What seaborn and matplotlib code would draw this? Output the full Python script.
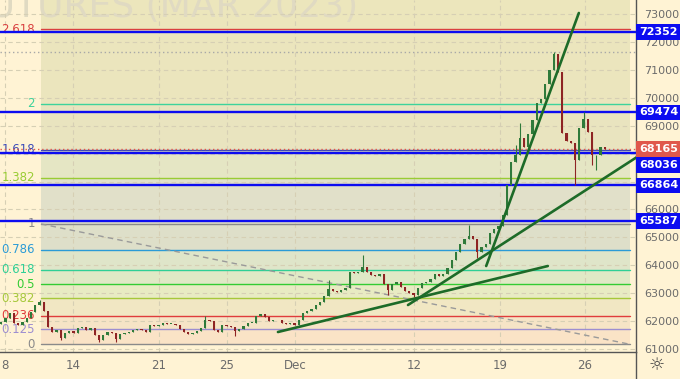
import numpy as np
import pandas as pd
import matplotlib.pyplot as plt
import seaborn as sns

# closes, 4 bars per trading day (7 Nov .. 27 Dec)
closes = [61968, 62111, 62290, 61932, 61860, 61968, 62111, 62326, 62576, 62684,
          62361, 61788, 61609, 61681, 61394, 61573, 61645, 61573, 61752, 61788,
          61681, 61752, 61502, 61323, 61502, 61609, 61573, 61358, 61537, 61573,
          61609, 61681, 61716, 61681, 61609, 61860, 61824, 61860, 61932, 61896,
          61896, 61860, 61716, 61609, 61537, 61573, 61645, 61752, 62039, 62003,
          61681, 61609, 61860, 61824, 61788, 61645, 61716, 61824, 61932, 61932,
          62183, 62254, 62147, 62003, 62039, 62039, 61932, 61896, 61932, 61860,
          62039, 62290, 62361, 62433, 62576, 62684, 62899, 63149, 63078, 63042,
          63114, 63185, 63759, 63723, 63759, 63938, 63759, 63651, 63615, 63687,
          63329, 63114, 63329, 63400, 63221, 63078, 63006, 62935, 63185, 63365,
          63400, 63508, 63687, 63615, 63687, 63902, 64188, 64475, 64762, 64941,
          65048, 64941, 64475, 64654, 64762, 65156, 65299, 65406, 65800, 66875,
          67699, 67949, 68558, 68236, 68702, 69203, 69812, 69955, 70493, 70994,
          71567, 70922, 68737, 68451, 68379, 67770, 68917, 69239, 68773, 67949,
          67949, 68236, 68165]
first_open = 61900
wick_hi = {9: 62756, 48: 62183, 77: 63472, 85: 64366, 110: 65442, 121: 68308,
           122: 69096, 130: 71650, 137: 69474}
wick_lo = {14: 61323, 23: 61250, 27: 61250, 55: 61466, 91: 62935, 97: 62863,
           112: 64260, 135: 66875, 139: 67591, 140: 67412}

# fibonacci extension
fib0, fib1 = 61170, 65480
fib_ratios = [0, 0.125, 0.236, 0.382, 0.5, 0.618, 0.786, 1, 1.382, 1.618, 2, 2.618]
fib_labels = ["0", "0.125", "0.236", "0.382", "0.5", "0.618", "0.786", "1",
              "1.382", "1.618", "2", "2.618"]
fib_colors = ["#8a8a8a", "#9d8ed0", "#e03c3c", "#a6c83a", "#33cc33", "#2fcf96",
              "#2b9bd6", "#8a8a8a", "#99cc33", "#3b4ab8", "#3dd39b", "#d94040"]
# zone fills: 0-0.125, ..., 2-2.618, above 2.618
zone_colors = ["#fae3c6", "#f6e4c6", "#f1e7c3", "#e8ebc3", "#e0e9c6", "#dfe5c9",
               "#dedfc9", "#e1e0c9", "#e5e6c4", "#e9e4bf", "#ebe5bd", "#ece6bc"]

levels = [72352, 69474, 68036, 66864, 65587]
last_price = 68165
session_high = 71650

trend_x = [[65.1, 128.6], [95.7, 149.6], [114.1, 135.9]]
trend_y = [[61609, 63973], [62576, 67878], [63973, 73036]]

day_labels = ["8", "14", "21", "25", "Dec", "12", "19", "26"]
day_index = [0, 4, 9, 13, 17, 24, 29, 34]

price_ticks = list(range(61000, 74000, 1000))
hidden_ticks = [67000, 68000]  # covered by price tags

sns.set_style("white")
plt.rcParams['font.family'] = ['DejaVu Sans']

bg = "#fff3d4"
fig = plt.figure(figsize=(6.8, 3.79), dpi=100, facecolor=bg)
ax = fig.add_axes([0, 27 / 379, 636 / 680, 352 / 379])
ax.set_facecolor(bg)

x0, x1 = -0.3, 149.35
y0, y1 = 60893, 73501
ax.set_xlim(x0, x1)
ax.set_ylim(y0, y1)

# watermark
ax.text(358 / 636, 1 - 17 / 352, "FUTURES (MAR 2023)", transform=ax.transAxes,
        ha="right", va="baseline", fontsize=26, color="#e0dac2", zorder=0.5)

# fib zones and lines
fx0, fx1 = 9.35, 147.9
fib_prices = [fib0 + r * (fib1 - fib0) for r in fib_ratios]
bounds = fib_prices + [y1]
for i, c in enumerate(zone_colors):
    ax.fill_between([fx0, fx1], bounds[i], bounds[i + 1], color=c, lw=0, zorder=0.3)

# grid
tick_pos = [0.88 + 4.014 * d for d in day_index]
for p in price_ticks:
    ax.axhline(p, color="#d6cfb4", lw=0.8, ls=(0, (4, 3)), zorder=0.6)
for t in tick_pos:
    ax.axvline(t, color="#d6cfb4", lw=0.8, ls=(0, (4, 3)), zorder=0.6)

for p, lab, c in zip(fib_prices, fib_labels, fib_colors):
    ax.plot([fx0, fx1], [p, p], color=c, lw=1.0, zorder=1)
    ax.text(35 / 636, p, lab, transform=ax.get_yaxis_transform(), ha="right",
            va="center", fontsize=8.5, color=c, zorder=1)

# dashed diagonal of fib tool
ax.plot([fx0, fx1], [fib1, fib0], color="#9a9a9a", lw=1, ls=(0, (4, 3)), zorder=1)

# candles
df = pd.DataFrame({"close": closes})
df["open"] = df["close"].shift(1).fillna(first_open)
df["x"] = np.arange(len(df))
df["body_lo"] = df[["open", "close"]].min(axis=1)
df["hi"] = df[["open", "close"]].max(axis=1)
df["lo"] = df["body_lo"]
for k, v in wick_hi.items():
    df.loc[k, "hi"] = v
for k, v in wick_lo.items():
    df.loc[k, "lo"] = v
up = df["close"] >= df["open"]
col = np.where(up, "#2f7a3a", "#8e2424")
ax.vlines(df["x"], df["lo"], df["hi"], color=col, lw=0.8, zorder=3)
body = (df["close"] - df["open"]).abs().clip(lower=18)
ax.bar(df["x"], body, bottom=df["body_lo"], width=0.5, color=col, lw=0, zorder=3)

# horizontal levels
ax.axhline(session_high, color="#a8a8a8", lw=1, ls=(0, (1, 2)), zorder=2)
ax.axhline(last_price, color="#e0584c", lw=1, ls=(0, (1, 2)), zorder=2)
for p in levels:
    ax.axhline(p, color="#0c0cf0", lw=1.7, zorder=2)

# trend lines
tl = pd.DataFrame({
    "x": [v for xs in trend_x for v in xs],
    "y": [v for ys in trend_y for v in ys],
    "line": [i for i in range(len(trend_x)) for _ in range(2)],
})
sns.lineplot(data=tl, x="x", y="y", units="line", estimator=None, color="#1d6b28",
             lw=1.9, ax=ax, zorder=4)
ax.set_xlim(x0, x1)
ax.set_ylim(y0, y1)
ax.set_xlabel("")
ax.set_ylabel("")

# axes styling
for s in ["top", "left"]:
    ax.spines[s].set_visible(False)
for s in ["right", "bottom"]:
    ax.spines[s].set_color("#555555")
    ax.spines[s].set_linewidth(1)
ax.yaxis.tick_right()
ax.set_yticks(price_ticks)
ax.set_yticklabels(["" if p in hidden_ticks else str(p) for p in price_ticks])
ax.set_xticks(tick_pos)
ax.set_xticklabels(day_labels)
ax.tick_params(axis="y", length=0, pad=6, labelsize=8, labelcolor="#6b6b6b")
ax.tick_params(axis="x", length=0, pad=5, labelsize=8.5, labelcolor="#6b6b6b")

# price tags on the right axis
tag_offset = {68036: -9}
for p in levels:
    ax.annotate(str(p), xy=(1, p), xycoords=ax.get_yaxis_transform(),
                xytext=(2, tag_offset.get(p, 0)), textcoords="offset points",
                ha="left", va="center", fontsize=8, fontweight="bold", color="white",
                bbox=dict(boxstyle="square,pad=0.25", fc="#0c0cf0", ec="none"),
                annotation_clip=False, zorder=6)
ax.annotate(str(last_price), xy=(1, last_price), xycoords=ax.get_yaxis_transform(),
            xytext=(2, 0), textcoords="offset points", ha="left", va="center",
            fontsize=8, fontweight="bold", color="white",
            bbox=dict(boxstyle="square,pad=0.25", fc="#e0584c", ec="none"),
            annotation_clip=False, zorder=7)

fig.add_artist(plt.Line2D([636 / 680, 636 / 680], [0, 27 / 379], color="#555555", lw=1))
fig.text(657 / 680, 1 - 365 / 379, "☼", ha="center", va="center", fontsize=13,
         color="#444444")

fig.savefig("out.png", dpi=100, facecolor=bg)
